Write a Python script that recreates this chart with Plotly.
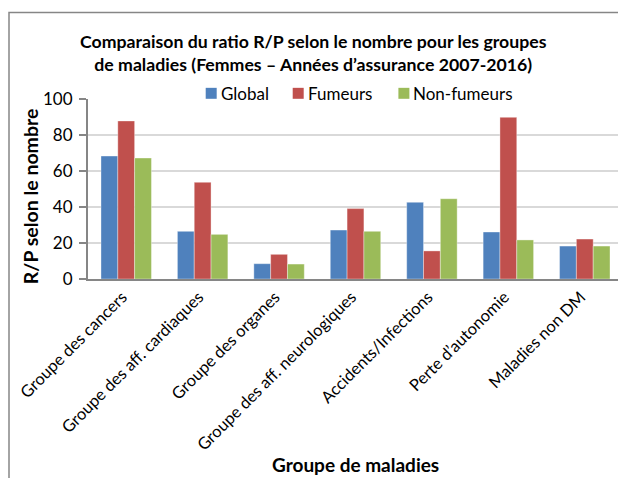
import plotly.graph_objects as go

categories = ["Groupe des cancers", "Groupe des aff. cardiaques", "Groupe des organes",
              "Groupe des aff. neurologiques", "Accidents/Infections",
              "Perte d\u2019autonomie", "Maladies non DM"]
global_vals = [68.3, 26.5, 8.5, 27.2, 42.6, 26.1, 18.3]
fumeurs_vals = [87.8, 53.7, 13.7, 39.1, 15.6, 89.8, 22.2]
non_fumeurs_vals = [67.2, 24.8, 8.3, 26.5, 44.6, 21.7, 18.3]
series_names = ["Global", "Fumeurs", "Non-fumeurs"]
y_ticks = [0, 20, 40, 60, 80, 100]

colors = ["#4F81BD", "#C0504D", "#9BBB59"]
FONT = "Lato"

# The page has an 8 px body margin, so the figure is drawn 8 px smaller
# and every reference pixel position is mapped through the plot area.
PX0, PX1 = 88.0, 623.0    # plot area left/right in reference pixels
PY0, PY1 = 98.5, 279.0    # plot area top/bottom in reference pixels


def px(x):
    return (x - PX0) / (PX1 - PX0)


def py(y):
    return (PY1 - y) / (PY1 - PY0)


fig = go.Figure()
for name, vals, col in zip(series_names, [global_vals, fumeurs_vals, non_fumeurs_vals], colors):
    fig.add_trace(go.Bar(x=categories, y=vals, name=name, showlegend=False,
                         marker=dict(color=col, line=dict(width=0.6, color="rgba(255,255,255,0.6)"))))

annotations = [
    dict(text="<b>Comparaison du ratio R/P selon le nombre pour les groupes</b><br><b>de maladies (Femmes \u2013 Ann\u00e9es d\u2019assurance 2007-2016)</b>",
         xref="paper", yref="paper", x=px(313), y=py(52.5),
         xanchor="center", yanchor="middle", showarrow=False,
         font=dict(size=17.7, family=FONT)),
    dict(text="<b>Groupe de maladies</b>", xref="paper", yref="paper",
         x=px(355), y=py(465.5), xanchor="center", yanchor="middle",
         showarrow=False, font=dict(size=19, family=FONT)),
    dict(text="<b>R/P selon le nombre</b>", xref="paper", yref="paper",
         x=px(30), y=py(196), xanchor="center", yanchor="middle", textangle=-90,
         showarrow=False, font=dict(size=19.5, family=FONT)),
]
shapes = [dict(type="rect", xref="paper", yref="paper", xsizemode="pixel", ysizemode="pixel",
               xanchor=0, yanchor=1, x0=-79, x1=700, y0=86.5, y1=-600,
               line=dict(color="#868686", width=1.5), fillcolor="rgba(0,0,0,0)", layer="below")]

# manual legend (square + label) positioned like the reference
legend_sq_x = [205.7, 292.7, 398.4]
for name, col, sx in zip(series_names, colors, legend_sq_x):
    shapes.append(dict(type="rect", xref="paper", yref="paper",
                       x0=px(sx), x1=px(sx + 11), y0=py(98.3), y1=py(87.3),
                       line=dict(width=0), fillcolor=col))
    annotations.append(dict(text=name, xref="paper", yref="paper", x=px(sx + 13), y=py(92.5),
                            xanchor="left", yanchor="middle", showarrow=False,
                            font=dict(size=17, family=FONT)))

fig.update_layout(
    width=618, height=470,
    margin=dict(l=PX0 - 8, r=618 - (PX1 - 8), t=PY0 - 8, b=470 - (PY1 - 8)),
    paper_bgcolor="white", plot_bgcolor="white",
    font=dict(family=FONT, size=16, color="#000000"),
    barmode="group", bargap=0.34, bargroupgap=0,
    showlegend=False,
    annotations=annotations,
    shapes=shapes,
)

fig.update_xaxes(showline=True, linecolor="#868686", linewidth=2, tickangle=-45,
                 ticks="", tickfont=dict(size=16.5), showgrid=False, automargin=False,
                 ticklabelshift=-4)
fig.update_yaxes(range=[0, 100], tickvals=y_ticks, showline=True, linecolor="#868686", linewidth=2,
                 ticks="outside", ticklen=7, tickcolor="#868686", tickwidth=2,
                 gridcolor="#D9D9D9", gridwidth=2, tickfont=dict(size=17), zeroline=False,
                 ticklabelstandoff=3, automargin=False)

fig.write_html("out.html")
